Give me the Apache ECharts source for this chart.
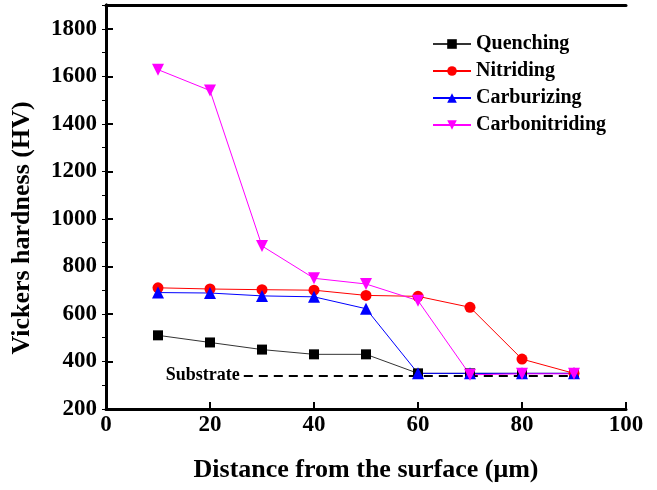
<!DOCTYPE html>
<html>
<head>
<meta charset="utf-8">
<script src="https://cdn.jsdelivr.net/npm/echarts@6/dist/echarts.min.js"></script>
<style>
  html, body { margin: 0; padding: 0; background: #fff; }
  #chart { width: 657px; height: 490px; }
</style>
</head>
<body>
<div id="chart"></div>
<script>
// data
const depth = [10, 20, 30, 40, 50, 60, 70, 80, 90]
const quenching = [510, 480, 450, 430, 430, 350, 350, 350, 350]
const nitriding = [710, 705, 702, 700, 678, 674, 628, 410, 350]
const carburizing = [690, 688, 676, 672, 622, 350, 350, 350, 350]
const carbonitriding = [1628, 1540, 886, 750, 726, 656, 344, 348, 348]
const substrate = 342
const substrateFrom = 26.5
const substrateTo = 90

const font = 'Liberation Serif'
const black = '#000'

const pairs = (ys) => depth.map((x, i) => [x, ys[i]])

const seriesDefs = [
    { name: 'Quenching', data: quenching, color: '#000', line: '#333', symbol: 'rect', size: 10, rotate: 0 },
    { name: 'Nitriding', data: nitriding, color: '#ff0000', line: '#ff0000', symbol: 'circle', size: 11, rotate: 0 },
    { name: 'Carburizing', data: carburizing, color: '#0000ff', line: '#0000ff', symbol: 'triangle', size: 12, rotate: 0 },
    { name: 'Carbonitriding', data: carbonitriding, color: '#ff00ff', line: '#ff00ff', symbol: 'triangle', size: 12, rotate: 180 },
]

const chart = echarts.init(document.getElementById('chart'))

const series = seriesDefs.map((s) => ({
    name: s.name,
    type: 'line',
    data: pairs(s.data),
    symbol: s.symbol,
    symbolSize: s.size,
    symbolRotate: s.rotate,
    itemStyle: { color: s.color },
    lineStyle: { color: s.line, width: 1 },
    animation: false,
    z: 3,
}))

// dashed substrate reference line, hung on the first series
series[0].markLine = {
    silent: true,
    symbol: ['none', 'none'],
    z: 2,
    lineStyle: { color: black, width: 2, type: [9, 6] },
    label: {
        show: true,
        position: 'start',
        distance: 4,
        formatter: 'Substrate',
        fontFamily: font,
        fontWeight: 'bold',
        fontSize: 18,
        color: black,
    },
    emphasis: { disabled: true },
    data: [[{ coord: [substrateFrom, substrate] }, { coord: [substrateTo, substrate] }]],
}

chart.setOption({
    backgroundColor: '#fff',
    animation: false,
    grid: { left: 106, right: 31, top: 5, bottom: 81 },
    legend: {
        orient: 'vertical',
        left: 427,
        top: 29,
        itemGap: 7,
        itemWidth: 38,
        itemHeight: 12,
        data: seriesDefs.map((s) => s.name),
        textStyle: { fontFamily: font, fontWeight: 'bold', fontSize: 20, color: black },
    },
    xAxis: [
        {
            type: 'value',
            min: 0,
            max: 100,
            interval: 20,
            name: 'Distance from the surface (\u03bcm)',
            nameLocation: 'middle',
            nameGap: 48,
            nameTextStyle: { fontFamily: font, fontWeight: 'bold', fontSize: 26, color: black },
            axisLine: { lineStyle: { color: black, width: 3 } },
            axisTick: { inside: true, length: 7, lineStyle: { color: black, width: 2 } },
            axisLabel: { fontFamily: font, fontWeight: 'bold', fontSize: 23, color: black, margin: 5 },
            splitLine: { show: false },
        },
        {
            type: 'value',
            position: 'top',
            min: 0,
            max: 100,
            interval: 20,
            axisLine: { show: true, lineStyle: { color: black, width: 3 } },
            axisTick: { show: false },
            axisLabel: { show: false },
            splitLine: { show: false },
        },
    ],
    yAxis: [
        {
            type: 'value',
            min: 200,
            max: 1900,
            interval: 200,
            name: 'Vickers hardness (HV)',
            nameLocation: 'middle',
            nameGap: 71,
            nameTextStyle: {
                fontFamily: font, fontWeight: 'bold', fontSize: 26, color: black,
                padding: [0, 42, 0, 0],
            },
            axisLine: { show: true, lineStyle: { color: black, width: 3 } },
            axisTick: { inside: true, length: 7, lineStyle: { color: black, width: 2 } },
            axisLabel: {
                fontFamily: font, fontWeight: 'bold', fontSize: 23, color: black, margin: 9,
                formatter: (v) => (v === 1900 ? '' : v),
            },
            splitLine: { show: false },
        },
        {
            type: 'value',
            position: 'right',
            min: 200,
            max: 1900,
            interval: 100,
            axisLine: { show: true, lineStyle: { color: black, width: 3 } },
            axisTick: { inside: true, length: 4, lineStyle: { color: black, width: 1 } },
            axisLabel: { show: false },
            splitLine: { show: false },
        },
    ],
    series,
})
</script>
</body>
</html>
